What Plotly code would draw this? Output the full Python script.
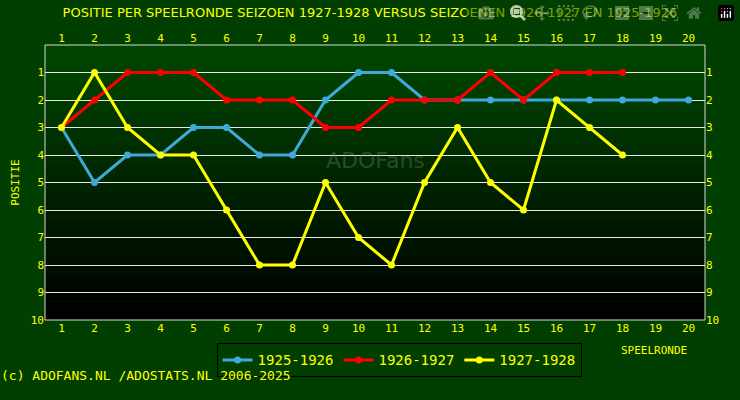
import plotly.graph_objects as go

rounds = list(range(1, 21))
s1925 = [3,5,4,4,3,3,4,4,2,1,1,2,2,2,2,2,2,2,2,2]
s1926 = [3,2,1,1,1,2,2,2,3,3,2,2,2,1,2,1,1,1]
s1927 = [3,1,3,4,4,6,8,8,5,7,8,5,3,5,6,2,3,4]
series = [("1925-1926", s1925, "#3fa9d9"), ("1926-1927", s1926, "#ff0000"), ("1927-1928", s1927, "#ffff00")]
ticks_y = list(range(1, 11))

fig = go.Figure()
for name, vals, col in series:
    fig.add_trace(go.Scatter(x=rounds[:len(vals)], y=vals, name=name, mode="lines+markers",
                             line=dict(color=col, width=3), marker=dict(size=7, color=col)))
fig.add_trace(go.Scatter(x=rounds, y=[None]*20, xaxis="x2", yaxis="y2", showlegend=False, hoverinfo="skip"))

shapes = []
n = 30
for i in range(n):
    f = i / (n - 1)
    g = int(0x48 * (1 - f))
    shapes.append(dict(type="rect", xref="paper", yref="paper", x0=0, x1=1,
                       y0=1 - (i + 1) / n, y1=1 - i / n, line=dict(width=0),
                       fillcolor=f"rgb(0,{g},0)", layer="below"))
shapes.append(dict(type="rect", xref="paper", yref="paper", x0=0, x1=1, y0=0, y1=1,
                   line=dict(color="#d8d8d8", width=1), layer="above"))

font = dict(family="DejaVu Sans Mono", color="#ffff00", size=11)
fig.update_layout(
    width=740, height=400, margin=dict(l=45, r=35, t=45, b=80),
    paper_bgcolor="#003f00", plot_bgcolor="rgba(0,0,0,0)", shapes=shapes,
    font=font,
    title=dict(text="POSITIE PER SPEELRONDE SEIZOEN 1927-1928 VERSUS SEIZOENEN 1926-1927 EN 1925-1926",
               x=0.5, y=0.97, xanchor="center", yanchor="middle",
               font=dict(size=13, color="#ffff00", family="DejaVu Sans")),
    xaxis=dict(range=[0.5, 20.5], tickvals=rounds, showgrid=False, zeroline=False, ticks="", tickfont=font),
    xaxis2=dict(range=[0.5, 20.5], tickvals=rounds, overlaying="x", side="top", showgrid=False,
                zeroline=False, tickfont=font),
    yaxis=dict(range=[10, 0], tickvals=ticks_y, gridcolor="#e8e8e8", gridwidth=1, zeroline=False,
               tickfont=font, title=dict(text="POSITIE", font=dict(size=11, color="#ffff00"), standoff=8)),
    yaxis2=dict(range=[10, 0], tickvals=ticks_y, overlaying="y", side="right", showgrid=False,
                zeroline=False, tickfont=font),
    legend=dict(orientation="h", x=0.26, y=-0.085, xanchor="left", yanchor="top",
                bgcolor="#003f00", bordercolor="#000000", borderwidth=1, itemwidth=30,
                font=dict(size=14, color="#ffff00", family="DejaVu Sans Mono")),
    annotations=[
        dict(text="SPEELRONDE", xref="paper", yref="paper", x=0.975, y=-0.14, showarrow=False,
             font=dict(size=11, color="#ffff00")),
        dict(text="(c) ADOFANS.NL /ADOSTATS.NL 2006-2025", xref="paper", yref="paper", x=-0.07, y=-0.235,
             xanchor="left", showarrow=False, font=dict(size=13, color="#ffff00", family="DejaVu Sans Mono")),
        dict(text="ADOFans", xref="paper", yref="paper", x=0.5, y=0.58, showarrow=False,
             font=dict(size=22, color="rgba(120,140,120,0.35)", family="DejaVu Sans")),
    ],
)
fig.write_html("out.html", post_script="document.body.style.margin='0';document.body.style.border='0';")
